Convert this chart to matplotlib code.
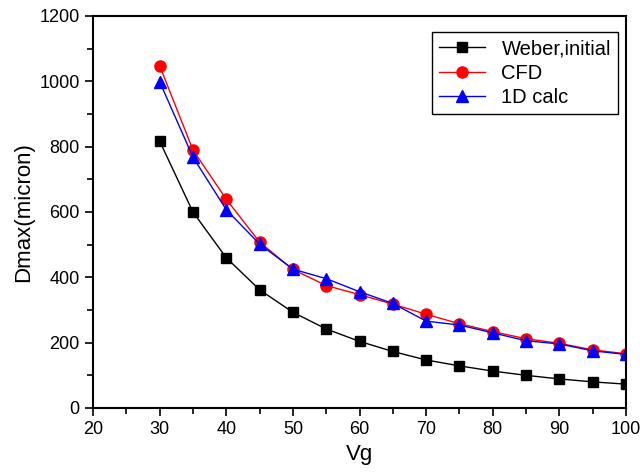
import matplotlib
matplotlib.use("Agg")
import matplotlib.pyplot as plt
from matplotlib.ticker import MultipleLocator

plt.rcParams['font.family'] = ['Liberation Sans', 'DejaVu Sans']

vg = [30, 35, 40, 45, 50, 55, 60, 65, 70, 75, 80, 85, 90, 95, 100]
weber = [817, 600, 460, 362, 293, 242, 204, 173, 147, 129, 113, 100, 89, 80, 73]
cfd = [1048, 790, 639, 508, 424, 375, 347, 318, 287, 258, 234, 212, 198, 178, 166]
calc1d = [999, 768, 607, 502, 425, 396, 356, 320, 266, 254, 230, 206, 196, 175, 164]


def main():
    fig = plt.figure(figsize=(6.4, 4.74), dpi=100)
    ax = fig.add_axes([93 / 640, 1 - 408 / 474, (626 - 93) / 640, (408 - 16) / 474])

    ax.plot(vg, weber, color="black", marker="s", markersize=7, lw=1, label="Weber,initial")
    ax.plot(vg, cfd, color="red", marker="o", markersize=8, lw=1, label="CFD")
    ax.plot(vg, calc1d, color="blue", marker="^", markersize=8, lw=1, label="1D calc")

    ax.set_xlim(20, 100)
    ax.set_ylim(0, 1200)
    ax.xaxis.set_major_locator(MultipleLocator(10))
    ax.xaxis.set_minor_locator(MultipleLocator(5))
    ax.yaxis.set_major_locator(MultipleLocator(200))
    ax.yaxis.set_minor_locator(MultipleLocator(100))
    ax.tick_params(which="both", direction="out", width=1.2, labelsize=13)
    ax.tick_params(which="major", length=6)
    ax.tick_params(which="minor", length=4)
    for s in ax.spines.values():
        s.set_linewidth(1.5)

    ax.set_xlabel("Vg", fontsize=16)
    ax.set_ylabel("Dmax(micron)", fontsize=16)

    leg = ax.legend(loc="upper right", bbox_to_anchor=(0.985, 0.959), fontsize=14.5,
                    fancybox=False, framealpha=1, edgecolor="black", borderaxespad=0,
                    handlelength=2.3, borderpad=0.35, labelspacing=0.28)
    leg.get_frame().set_linewidth(1)

    fig.savefig("out.png", dpi=100)


if __name__ == '__main__':
    main()
